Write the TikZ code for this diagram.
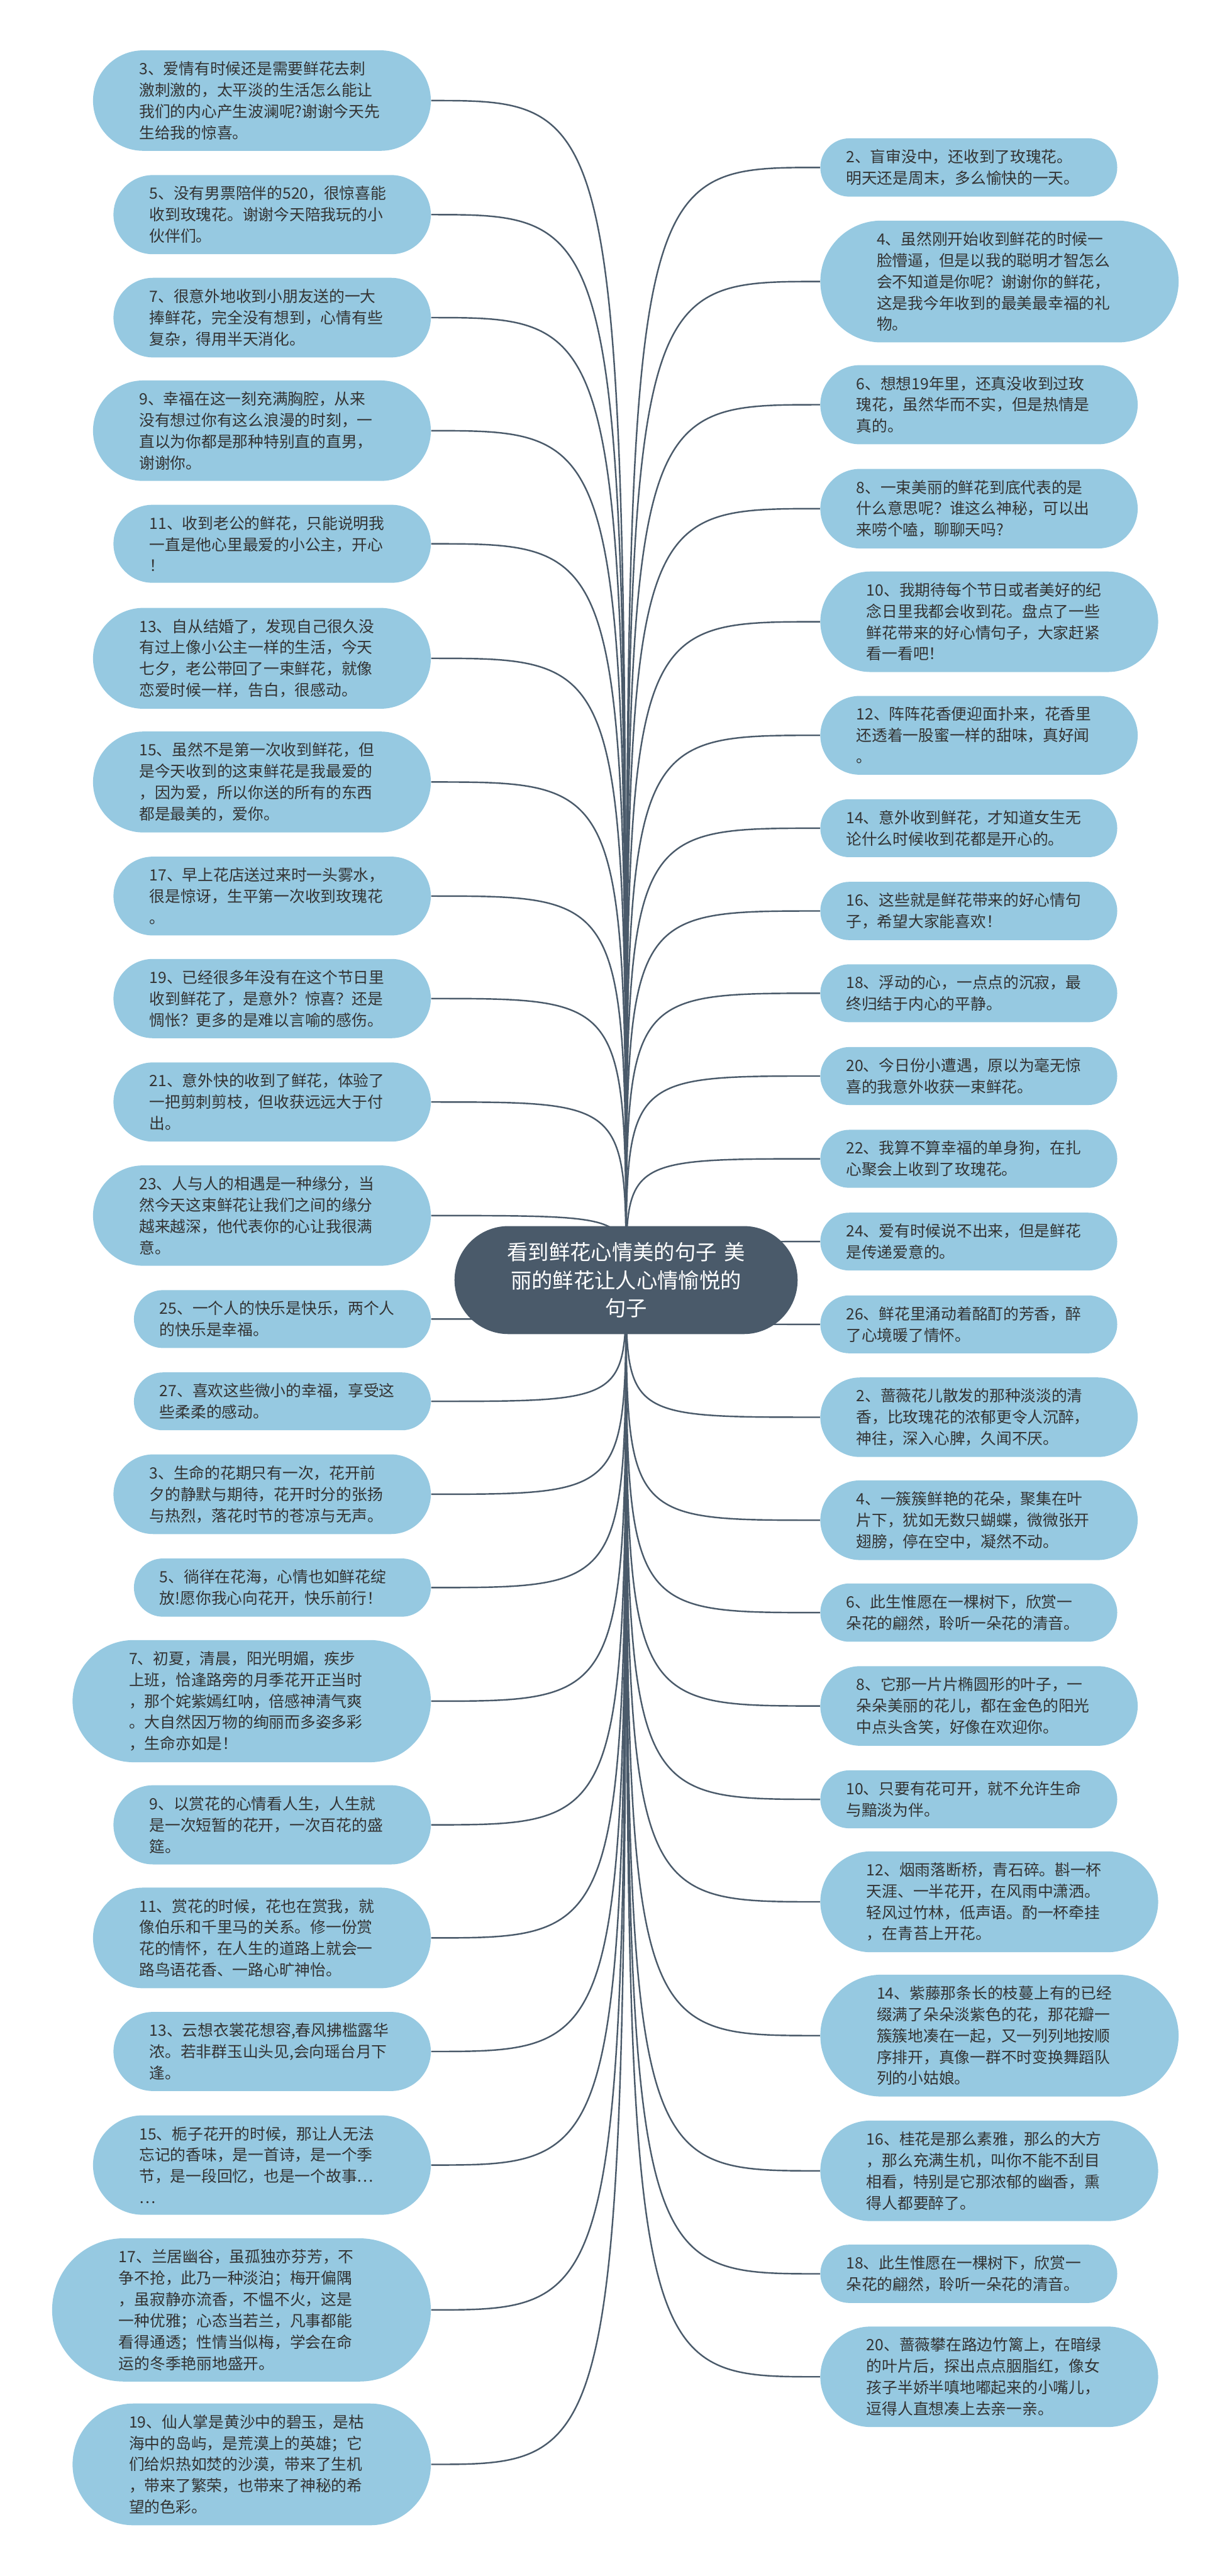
\documentclass[tikz,border=0pt]{standalone}
\usepackage{fontspec}
\setmainfont{Noto Sans CJK SC}
\usetikzlibrary{shapes.misc,backgrounds}
\definecolor{leafblue}{HTML}{96C9E1}
\definecolor{slate}{HTML}{4A5A6A}
\definecolor{inktext}{HTML}{333333}
\begin{document}
\begin{tikzpicture}
       \tikzset{leaf/.style={rounded rectangle, fill=leafblue, text=inktext, inner xsep=0pt, inner ysep=0.23cm,
                             minimum width=5.32cm+#1*0.425cm,
                             text width=5.1cm, align=left, font=\fontsize{9.2}{12.6}\selectfont},
                lleaf/.style={leaf=#1, anchor=east},
                rleaf/.style={leaf=#1, anchor=west},
                rootbox/.style={rounded rectangle, fill=slate, text=white, inner xsep=0pt, inner ysep=0.34cm,
                                minimum width=7.13cm,
                                text width=5.2cm, align=center, font=\fontsize{12.4}{16.5}\selectfont},
                link/.style={draw=slate, line width=0.9pt}}
       \useasboundingbox (0,0) rectangle (25.6,-53.53);
       \node[rootbox] (root) at (13.01,-26.60) {看到鲜花心情美的句子\ 美\\丽的鲜花让人心情愉悦的\\句子};
       % left side
       \node[lleaf=4] (l1) at (8.96,-2.09) {3、爱情有时候还是需要鲜花去刺\\激刺激的，太平淡的生活怎么能让\\我们的内心产生波澜呢?谢谢今天先\\生给我的惊喜。};
       \node[lleaf=3] (l2) at (8.96,-4.46) {5、没有男票陪伴的520，很惊喜能\\收到玫瑰花。谢谢今天陪我玩的小\\伙伴们。};
       \node[lleaf=3] (l3) at (8.96,-6.60) {7、很意外地收到小朋友送的一大\\捧鲜花，完全没有想到，心情有些\\复杂，得用半天消化。};
       \node[lleaf=4] (l4) at (8.96,-8.95) {9、幸福在这一刻充满胸腔，从来\\没有想过你有这么浪漫的时刻，一\\直以为你都是那种特别直的直男，\\谢谢你。};
       \node[lleaf=3] (l5) at (8.96,-11.30) {11、收到老公的鲜花，只能说明我\\一直是他心里最爱的小公主，开心\\！};
       \node[lleaf=4] (l6) at (8.96,-13.68) {13、自从结婚了，发现自己很久没\\有过上像小公主一样的生活，今天\\七夕，老公带回了一束鲜花，就像\\恋爱时候一样，告白，很感动。};
       \node[lleaf=4] (l7) at (8.96,-16.25) {15、虽然不是第一次收到鲜花，但\\是今天收到的这束鲜花是我最爱的\\，因为爱，所以你送的所有的东西\\都是最美的，爱你。};
       \node[lleaf=3] (l8) at (8.96,-18.62) {17、早上花店送过来时一头雾水，\\很是惊讶，生平第一次收到玫瑰花\\。};
       \node[lleaf=3] (l9) at (8.96,-20.75) {19、已经很多年没有在这个节日里\\收到鲜花了，是意外？惊喜？还是\\惆怅？更多的是难以言喻的感伤。};
       \node[lleaf=3] (l10) at (8.96,-22.90) {21、意外快的收到了鲜花，体验了\\一把剪刺剪枝，但收获远远大于付\\出。};
       \node[lleaf=4] (l11) at (8.96,-25.26) {23、人与人的相遇是一种缘分，当\\然今天这束鲜花让我们之间的缘分\\越来越深，他代表你的心让我很满\\意。};
       \node[lleaf=2] (l12) at (8.96,-27.41) {25、一个人的快乐是快乐，两个人\\的快乐是幸福。};
       \node[lleaf=2] (l13) at (8.96,-29.12) {27、喜欢这些微小的幸福，享受这\\些柔柔的感动。};
       \node[lleaf=3] (l14) at (8.96,-31.05) {3、生命的花期只有一次，花开前\\夕的静默与期待，花开时分的张扬\\与热烈，落花时节的苍凉与无声。};
       \node[lleaf=2] (l15) at (8.96,-32.99) {5、徜徉在花海，心情也如鲜花绽\\放!愿你我心向花开，快乐前行！};
       \node[lleaf=5] (l16) at (8.96,-35.35) {7、初夏，清晨，阳光明媚，疾步\\上班，恰逢路旁的月季花开正当时\\，那个姹紫嫣红呐，倍感神清气爽\\。大自然因万物的绚丽而多姿多彩\\，生命亦如是！};
       \node[lleaf=3] (l17) at (8.96,-37.92) {9、以赏花的心情看人生，人生就\\是一次短暂的花开，一次百花的盛\\筵。};
       \node[lleaf=4] (l18) at (8.96,-40.27) {11、赏花的时候，花也在赏我，就\\像伯乐和千里马的关系。修一份赏\\花的情怀，在人生的道路上就会一\\路鸟语花香、一路心旷神怡。};
       \node[lleaf=3] (l19) at (8.96,-42.63) {13、云想衣裳花想容,春风拂槛露华\\浓。若非群玉山头见,会向瑶台月下\\逢。};
       \node[lleaf=4] (l20) at (8.96,-44.99) {15、栀子花开的时候，那让人无法\\忘记的香味，是一首诗，是一个季\\节，是一段回忆，也是一个故事…\\…};
       \node[lleaf=6] (l21) at (8.96,-48.00) {17、兰居幽谷，虽孤独亦芬芳，不\\争不抢，此乃一种淡泊；梅开偏隅\\，虽寂静亦流香，不愠不火，这是\\一种优雅；心态当若兰，凡事都能\\看得通透；性情当似梅，学会在命\\运的冬季艳丽地盛开。};
       \node[lleaf=5] (l22) at (8.96,-51.21) {19、仙人掌是黄沙中的碧玉，是枯\\海中的岛屿，是荒漠上的英雄；它\\们给炽热如焚的沙漠，带来了生机\\，带来了繁荣，也带来了神秘的希\\望的色彩。};
       % right side
       \node[rleaf=2] (r1) at (17.04,-3.48) {2、盲审没中，还收到了玫瑰花。\\明天还是周末，多么愉快的一天。};
       \node[rleaf=5] (r2) at (17.04,-5.85) {4、虽然刚开始收到鲜花的时候一\\脸懵逼，但是以我的聪明才智怎么\\会不知道是你呢？谢谢你的鲜花，\\这是我今年收到的最美最幸福的礼\\物。};
       \node[rleaf=3] (r3) at (17.04,-8.41) {6、想想19年里，还真没收到过玫\\瑰花，虽然华而不实，但是热情是\\真的。};
       \node[rleaf=3] (r4) at (17.04,-10.57) {8、一束美丽的鲜花到底代表的是\\什么意思呢？谁这么神秘，可以出\\来唠个嗑，聊聊天吗?};
       \node[rleaf=4] (r5) at (17.04,-12.92) {10、我期待每个节日或者美好的纪\\念日里我都会收到花。盘点了一些\\鲜花带来的好心情句子，大家赶紧\\看一看吧！};
       \node[rleaf=3] (r6) at (17.04,-15.28) {12、阵阵花香便迎面扑来，花香里\\还透着一股蜜一样的甜味，真好闻\\。};
       \node[rleaf=2] (r7) at (17.04,-17.21) {14、意外收到鲜花，才知道女生无\\论什么时候收到花都是开心的。};
       \node[rleaf=2] (r8) at (17.04,-18.93) {16、这些就是鲜花带来的好心情句\\子，希望大家能喜欢！};
       \node[rleaf=2] (r9) at (17.04,-20.64) {18、浮动的心，一点点的沉寂，最\\终归结于内心的平静。};
       \node[rleaf=2] (r10) at (17.04,-22.36) {20、今日份小遭遇，原以为毫无惊\\喜的我意外收获一束鲜花。};
       \node[rleaf=2] (r11) at (17.04,-24.08) {22、我算不算幸福的单身狗，在扎\\心聚会上收到了玫瑰花。};
       \node[rleaf=2] (r12) at (17.04,-25.80) {24、爱有时候说不出来，但是鲜花\\是传递爱意的。};
       \node[rleaf=2] (r13) at (17.04,-27.52) {26、鲜花里涌动着酩酊的芳香，醉\\了心境暖了情怀。};
       \node[rleaf=3] (r14) at (17.04,-29.45) {2、蔷薇花儿散发的那种淡淡的清\\香，比玫瑰花的浓郁更令人沉醉，\\神往，深入心脾，久闻不厌。};
       \node[rleaf=3] (r15) at (17.04,-31.59) {4、一簇簇鲜艳的花朵，聚集在叶\\片下，犹如无数只蝴蝶，微微张开\\翅膀，停在空中，凝然不动。};
       \node[rleaf=2] (r16) at (17.04,-33.51) {6、此生惟愿在一棵树下，欣赏一\\朵花的翩然，聆听一朵花的清音。};
       \node[rleaf=3] (r17) at (17.04,-35.45) {8、它那一片片椭圆形的叶子，一\\朵朵美丽的花儿，都在金色的阳光\\中点头含笑，好像在欢迎你。};
       \node[rleaf=2] (r18) at (17.04,-37.39) {10、只要有花可开，就不允许生命\\与黯淡为伴。};
       \node[rleaf=4] (r19) at (17.04,-39.52) {12、烟雨落断桥，青石碎。斟一杯\\天涯、一半花开，在风雨中潇洒。\\轻风过竹林，低声语。酌一杯牵挂\\，在青苔上开花。};
       \node[rleaf=5] (r20) at (17.04,-42.30) {14、紫藤那条长的枝蔓上有的已经\\缀满了朵朵淡紫色的花，那花瓣一\\簇簇地凑在一起，又一列列地按顺\\序排开，真像一群不时变换舞蹈队\\列的小姑娘。};
       \node[rleaf=4] (r21) at (17.04,-45.11) {16、桂花是那么素雅，那么的大方\\，那么充满生机，叫你不能不刮目\\相看，特别是它那浓郁的幽香，熏\\得人都要醉了。};
       \node[rleaf=2] (r22) at (17.04,-47.25) {18、此生惟愿在一棵树下，欣赏一\\朵花的翩然，聆听一朵花的清音。};
       \node[rleaf=4] (r23) at (17.04,-49.39) {20、蔷薇攀在路边竹篱上，在暗绿\\的叶片后，探出点点胭脂红，像女\\孩子半娇半嗔地嘟起来的小嘴儿，\\逗得人直想凑上去亲一亲。};
       % connectors
       \begin{scope}[on background layer]
           \foreach \i in {1,...,22}
               \draw[link] (l\i.east) .. controls (root |- l\i.east) and (root |- l\i.east) .. (root.center);
           \foreach \i in {1,...,23}
               \draw[link] (r\i.west) .. controls (root |- r\i.west) and (root |- r\i.west) .. (root.center);
       \end{scope}
   \end{tikzpicture}
\end{document}
